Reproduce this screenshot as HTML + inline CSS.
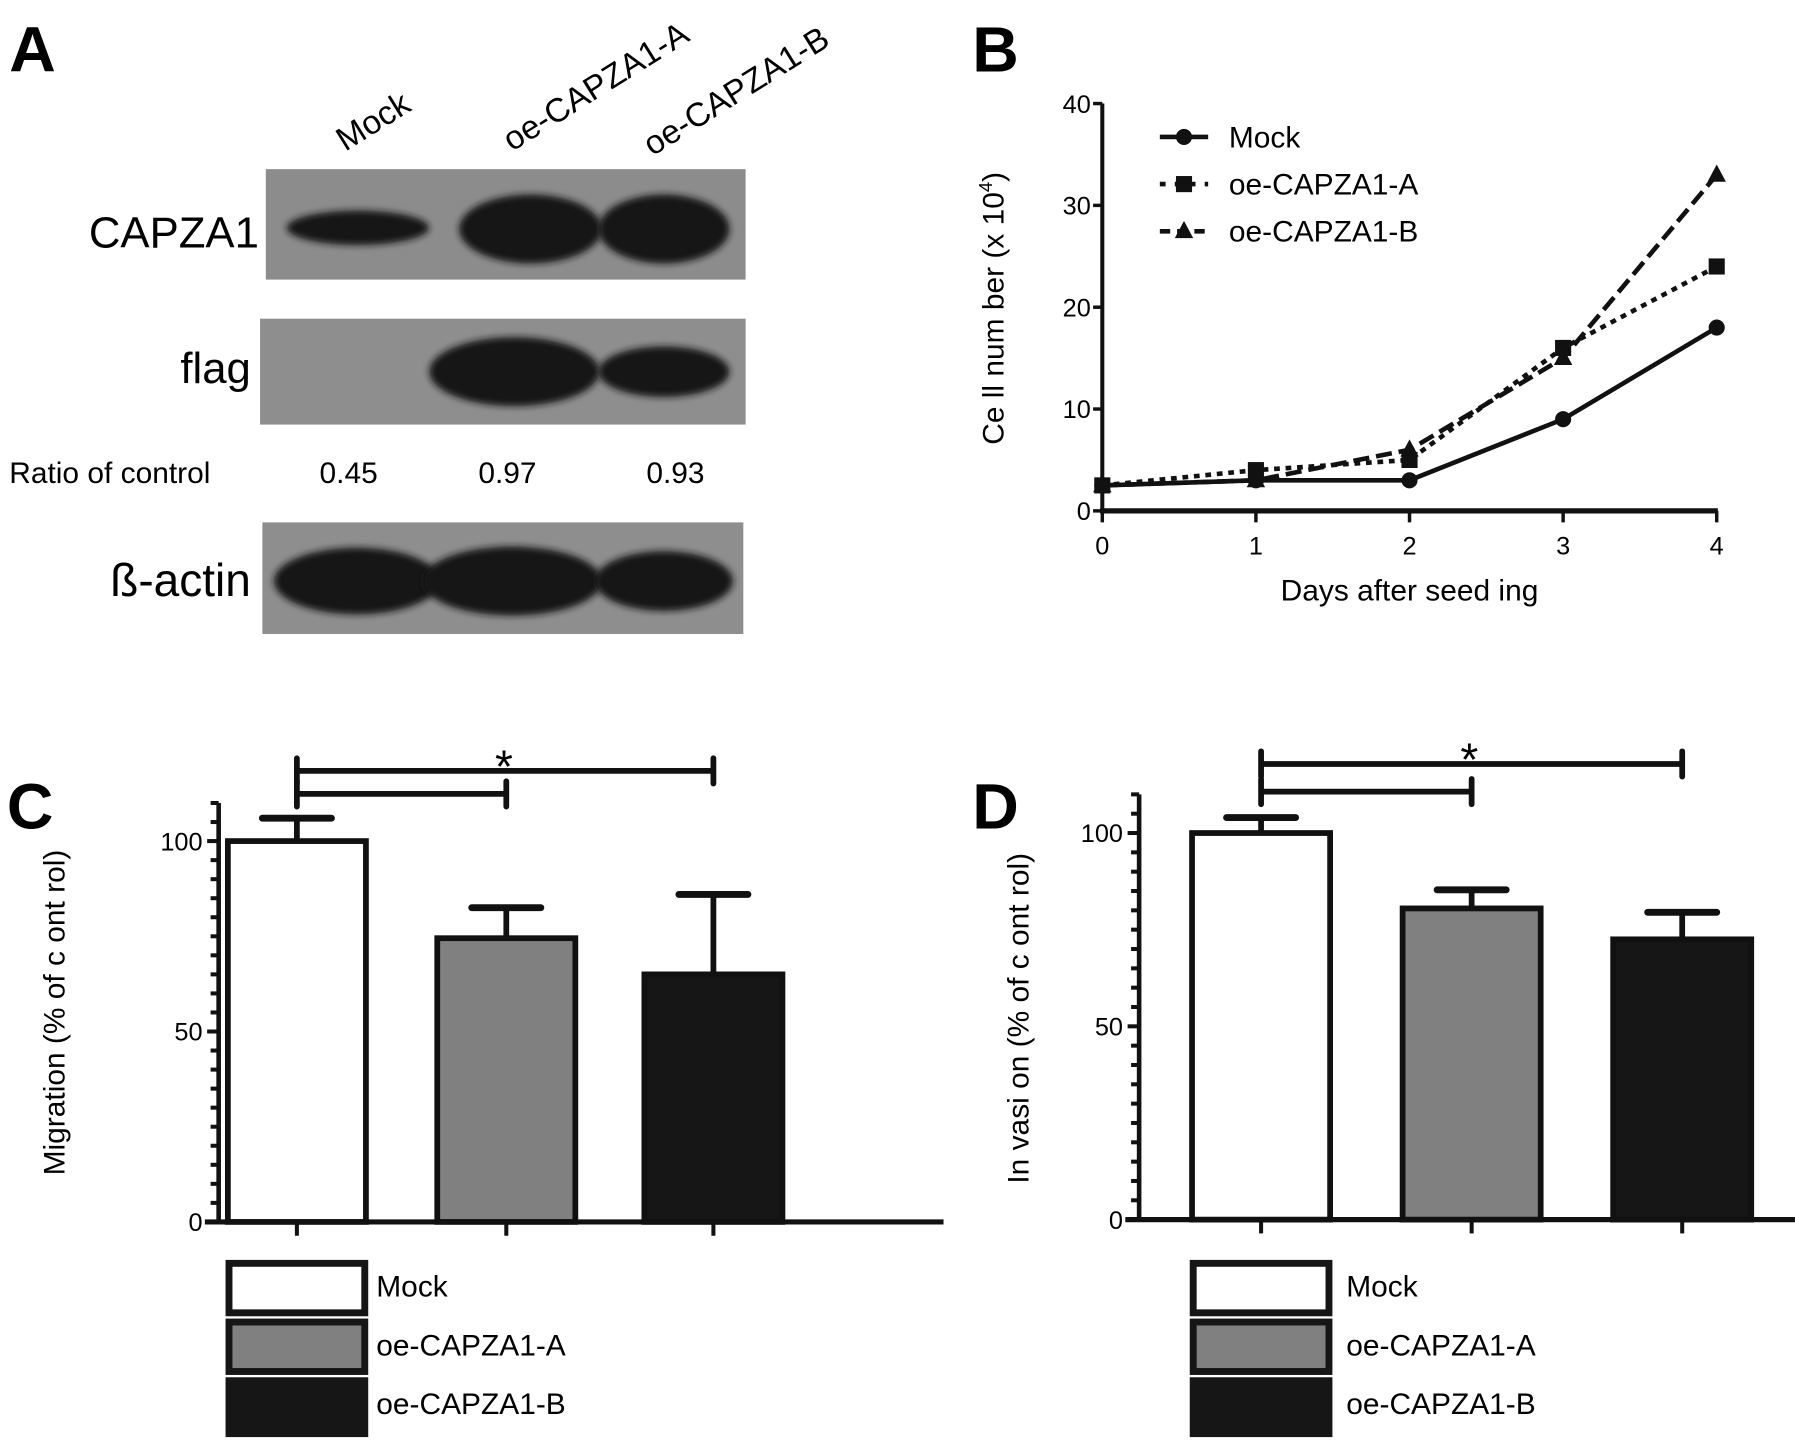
<!DOCTYPE html>
<html><head><meta charset="utf-8">
<style>
html,body{margin:0;padding:0;background:#fff;}
svg{display:block;font-family:"Liberation Sans",sans-serif;}
</style></head>
<body>
<svg id="fig" width="1795" height="1441" viewBox="0 0 1560 1252.4" xmlns="http://www.w3.org/2000/svg">
<defs>
<filter id="blur" x="-20%" y="-50%" width="140%" height="200%"><feGaussianBlur stdDeviation="3"/></filter>
</defs>
<g>
<text x="8" y="62" font-size="56" font-weight="bold">A</text>
<text transform="translate(300,132) rotate(-32)" font-size="29">Mock</text>
<text transform="translate(445,132) rotate(-32)" font-size="29">oe-CAPZA1-A</text>
<text transform="translate(567,136) rotate(-32)" font-size="29">oe-CAPZA1-B</text>

<g>
<rect x="231" y="147" width="417" height="96" fill="#8c8c8c"/>
<ellipse cx="311" cy="198" rx="62" ry="15" fill="#181818" filter="url(#blur)"/>
<ellipse cx="461" cy="199" rx="62" ry="30" fill="#141414" filter="url(#blur)"/>
<ellipse cx="577" cy="199" rx="57" ry="30" fill="#141414" filter="url(#blur)"/>
</g>
<text x="225" y="215" font-size="38" text-anchor="end">CAPZA1</text>

<g>
<rect x="226" y="277" width="422" height="92" fill="#8e8e8e"/>
<ellipse cx="447" cy="323" rx="74" ry="30" fill="#141414" filter="url(#blur)"/>
<ellipse cx="577" cy="323" rx="57" ry="22" fill="#141414" filter="url(#blur)"/>
</g>
<text x="218" y="333" font-size="38" text-anchor="end">flag</text>

<text x="8" y="420" font-size="26">Ratio of control</text>
<text x="303" y="420" font-size="26" text-anchor="middle">0.45</text>
<text x="441" y="420" font-size="26" text-anchor="middle">0.97</text>
<text x="587" y="420" font-size="26" text-anchor="middle">0.93</text>

<g>
<rect x="228" y="454" width="418" height="97" fill="#8e8e8e"/>
<ellipse cx="310" cy="505" rx="72" ry="29" fill="#141414" filter="url(#blur)"/>
<ellipse cx="445" cy="505" rx="78" ry="30" fill="#141414" filter="url(#blur)"/>
<ellipse cx="577" cy="505" rx="60" ry="26" fill="#141414" filter="url(#blur)"/>
</g>
<text x="218" y="518" font-size="40" text-anchor="end">ß-actin</text>
</g>

<g id="panelB">
<text x="845" y="62" font-size="56" font-weight="bold">B</text>
</g>
<g id="panelC">
<text x="6" y="720" font-size="56" font-weight="bold">C</text>
</g>
<g id="panelD">
<text x="845" y="720" font-size="56" font-weight="bold">D</text>
</g>
</svg>
<script>
// ---- Panel B data ----
const days = [0, 1, 2, 3, 4];
const mockCells = [2.5, 3, 3, 9, 18];
const oeACells = [2.5, 4, 5, 16, 24];
const oeBCells = [2.5, 3, 6, 15, 33];
const bYTicks = [0, 10, 20, 30, 40];
const seriesNames = ['Mock', 'oe-CAPZA1-A', 'oe-CAPZA1-B'];
// ---- Panel C data ----
const groups = ['Mock', 'oe-CAPZA1-A', 'oe-CAPZA1-B'];
const migrationMean = [100, 74.5, 65];
const migrationErr = [6, 8, 21];
// ---- Panel D data ----
const invasionMean = [100, 80.5, 72.5];
const invasionErr = [4, 4.8, 7];
const barYTicks = [0, 50, 100];

const NS = 'http://www.w3.org/2000/svg';
function mk(parent, tag, attrs, text) {
  const e = document.createElementNS(NS, tag);
  for (const k in attrs) e.setAttribute(k, attrs[k]);
  if (text !== undefined) e.textContent = text;
  parent.appendChild(e);
  return e;
}

(function () {
  const g = document.getElementById('panelB');
  const x0 = 958, x1 = 1492, y0 = 444, y1 = 90;
  const sx = d => x0 + (d - days[0]) / (days[days.length - 1] - days[0]) * (x1 - x0);
  const sy = v => y0 - v / 40 * (y0 - y1);
  let e = mk(g, 'line', { x1: x0, y1: y0, x2: x0, y2: y1, stroke: '#111', 'stroke-width': 3.5 });
  
  
  e = mk(g, 'line', { x1: x0 - 2, y1: y0, x2: x1 + 1, y2: y0, stroke: '#111', 'stroke-width': 4.5 });
  
  
  bYTicks.forEach(t => {
    mk(g, 'line', { x1: x0 - 8, y1: sy(t), x2: x0, y2: sy(t), stroke: '#111', 'stroke-width': 3 });
    const tx = mk(g, 'text', { x: x0 - 10, y: sy(t) + 8, 'font-size': 22, 'text-anchor': 'end' }, t);
    
    
  });
  days.forEach(d => {
    mk(g, 'line', { x1: sx(d), y1: y0, x2: sx(d), y2: y0 + 10, stroke: '#111', 'stroke-width': 3 });
    const tx = mk(g, 'text', { x: sx(d), y: y0 + 38, 'font-size': 22, 'text-anchor': 'middle' }, d);
    
    
  });
  e = mk(g, 'text', { x: 1225, y: 522, 'font-size': 26, 'text-anchor': 'middle' }, 'Days  after seed ing');
  
  
  e = mk(g, 'text', { transform: 'translate(872,268) rotate(-90)', 'font-size': 26, 'text-anchor': 'middle' });
  e.innerHTML = 'Ce ll num ber (x  10<tspan dy="-10" font-size="16">4</tspan><tspan dy="10">)</tspan>';
  
  

  const dashes = ['', '5,5', '14,6'];
  const all = [mockCells, oeACells, oeBCells];
  function marker(parent, k, x, y) {
    if (k === 0) return mk(parent, 'circle', { cx: x, cy: y, r: 7, fill: '#111' });
    if (k === 1) return mk(parent, 'rect', { x: x - 7, y: y - 7, width: 14, height: 14, fill: '#111' });
    return mk(parent, 'polygon', { points: `${x},${y - 9} ${x + 8},${y + 6} ${x - 8},${y + 6}`, fill: '#111' });
  }
  [2, 1, 0].forEach(k => {
    const s = all[k];
    const line = mk(g, 'polyline', { points: s.map((v, i) => sx(days[i]) + ',' + sy(v)).join(' '), fill: 'none', stroke: '#111', 'stroke-width': 4, 'stroke-dasharray': dashes[k] });
    
    
    s.forEach((v, i) => {
      const m = marker(g, k, sx(days[i]), sy(v));
      
      
    });
  });
  seriesNames.forEach((n, k) => {
    const y = 119 + k * 41;
    const l = mk(g, 'line', { x1: 1008, y1: y, x2: 1050, y2: y, stroke: '#111', 'stroke-width': 4, 'stroke-dasharray': dashes[k] === '' ? '' : (k === 1 ? '5,8' : '9,6') });
    
    
    const m = marker(g, k, 1029, y);
    
    
    const t = mk(g, 'text', { x: 1068, y: y + 9, 'font-size': 26 }, n);
    
    
  });
})();

function barPanel(gid, cfg, means, errs) {
  const g = document.getElementById(gid);
  const sy = v => cfg.y0 - v * cfg.k;
  const fills = ['#ffffff', '#808080', '#161616'];
  let e = mk(g, 'line', { x1: cfg.ax, y1: cfg.y0 + 1, x2: cfg.ax, y2: sy(110), stroke: '#111', 'stroke-width': 4 });
  
  
  e = mk(g, 'line', { x1: cfg.ax - 12, y1: cfg.y0, x2: cfg.xEnd, y2: cfg.y0, stroke: '#111', 'stroke-width': 4.5 });
  
  
  for (let t = 0; t <= 110; t += 5) {
    const big = barYTicks.includes(t);
    mk(g, 'line', { x1: cfg.ax - (big ? 10 : 7), y1: sy(t), x2: cfg.ax, y2: sy(t), stroke: '#111', 'stroke-width': 3.5 });
  }
  barYTicks.forEach(t => {
    const tx = mk(g, 'text', { x: cfg.ax - 14, y: sy(t) + 8, 'font-size': 22, 'text-anchor': 'end' }, t);
    
    
  });
  e = mk(g, 'text', { transform: `translate(${cfg.titleX},${cfg.titleY}) rotate(-90)`, 'font-size': 26, 'text-anchor': 'middle' }, cfg.title);
  
  
  means.forEach((m, i) => {
    const cx = cfg.cx[i];
    const eb = mk(g, 'line', { x1: cx, y1: sy(m), x2: cx, y2: sy(m + errs[i]), stroke: '#111', 'stroke-width': 5 });
    
    
    const cap = mk(g, 'line', { x1: cx - 30, y1: sy(m + errs[i]), x2: cx + 30, y2: sy(m + errs[i]), stroke: '#111', 'stroke-width': 6, 'stroke-linecap': 'round' });
    
    
    const b = mk(g, 'rect', { x: cx - cfg.bw / 2, y: sy(m), width: cfg.bw, height: m * cfg.k, fill: fills[i], stroke: '#111', 'stroke-width': 5 });
    
    
    mk(g, 'line', { x1: cx, y1: cfg.y0, x2: cx, y2: cfg.y0 + 12, stroke: '#111', 'stroke-width': 3.5 });
  });
  const br = [[0, 2, cfg.by1], [0, 1, cfg.by2]];
  br.forEach(([a, b, y], j) => {
    const l = mk(g, 'path', { d: `M${cfg.cx[a]},${y} H${cfg.cx[b]} M${cfg.cx[a]},${y - 11} V${y + 11} M${cfg.cx[b]},${y - 11} V${y + 11}`, stroke: '#111', 'stroke-width': 5, fill: 'none', 'stroke-linecap': 'round' });
    
    
  });
  e = mk(g, 'text', { x: cfg.cx[1] - 2, y: cfg.by1 + 10, 'font-size': 40, 'text-anchor': 'middle' }, '*');
  
  
  const ly = [1095, 1146, 1197];
  groups.forEach((n, i) => {
    const x = cfg.cx[0] - 62;
    let r;
    if (i === 2) r = mk(g, 'rect', { x: x, y: ly[i], width: 124, height: 52, fill: '#161616' });
    else r = mk(g, 'rect', { x: x + 3, y: ly[i] + 3, width: 118, height: 43, fill: fills[i], stroke: '#161616', 'stroke-width': 6 });
    
    
    const t = mk(g, 'text', { x: cfg.legX, y: ly[i] + 32, 'font-size': 26 }, n);
    
    
  });
}
barPanel('panelC', { ax: 190, y0: 1062, k: 3.31, xEnd: 820, cx: [258, 440, 620], bw: 120, by1: 670, by2: 690, title: 'Migration  (%  of c ont rol)', titleX: 56, titleY: 880, legX: 327 }, migrationMean, migrationErr);
barPanel('panelD', { ax: 990, y0: 1060, k: 3.36, xEnd: 1560, cx: [1096, 1279, 1462], bw: 120, by1: 664, by2: 688, title: 'In vasi on  (%  of c ont rol)', titleX: 894, titleY: 885, legX: 1170 }, invasionMean, invasionErr);
</script>
</body></html>
